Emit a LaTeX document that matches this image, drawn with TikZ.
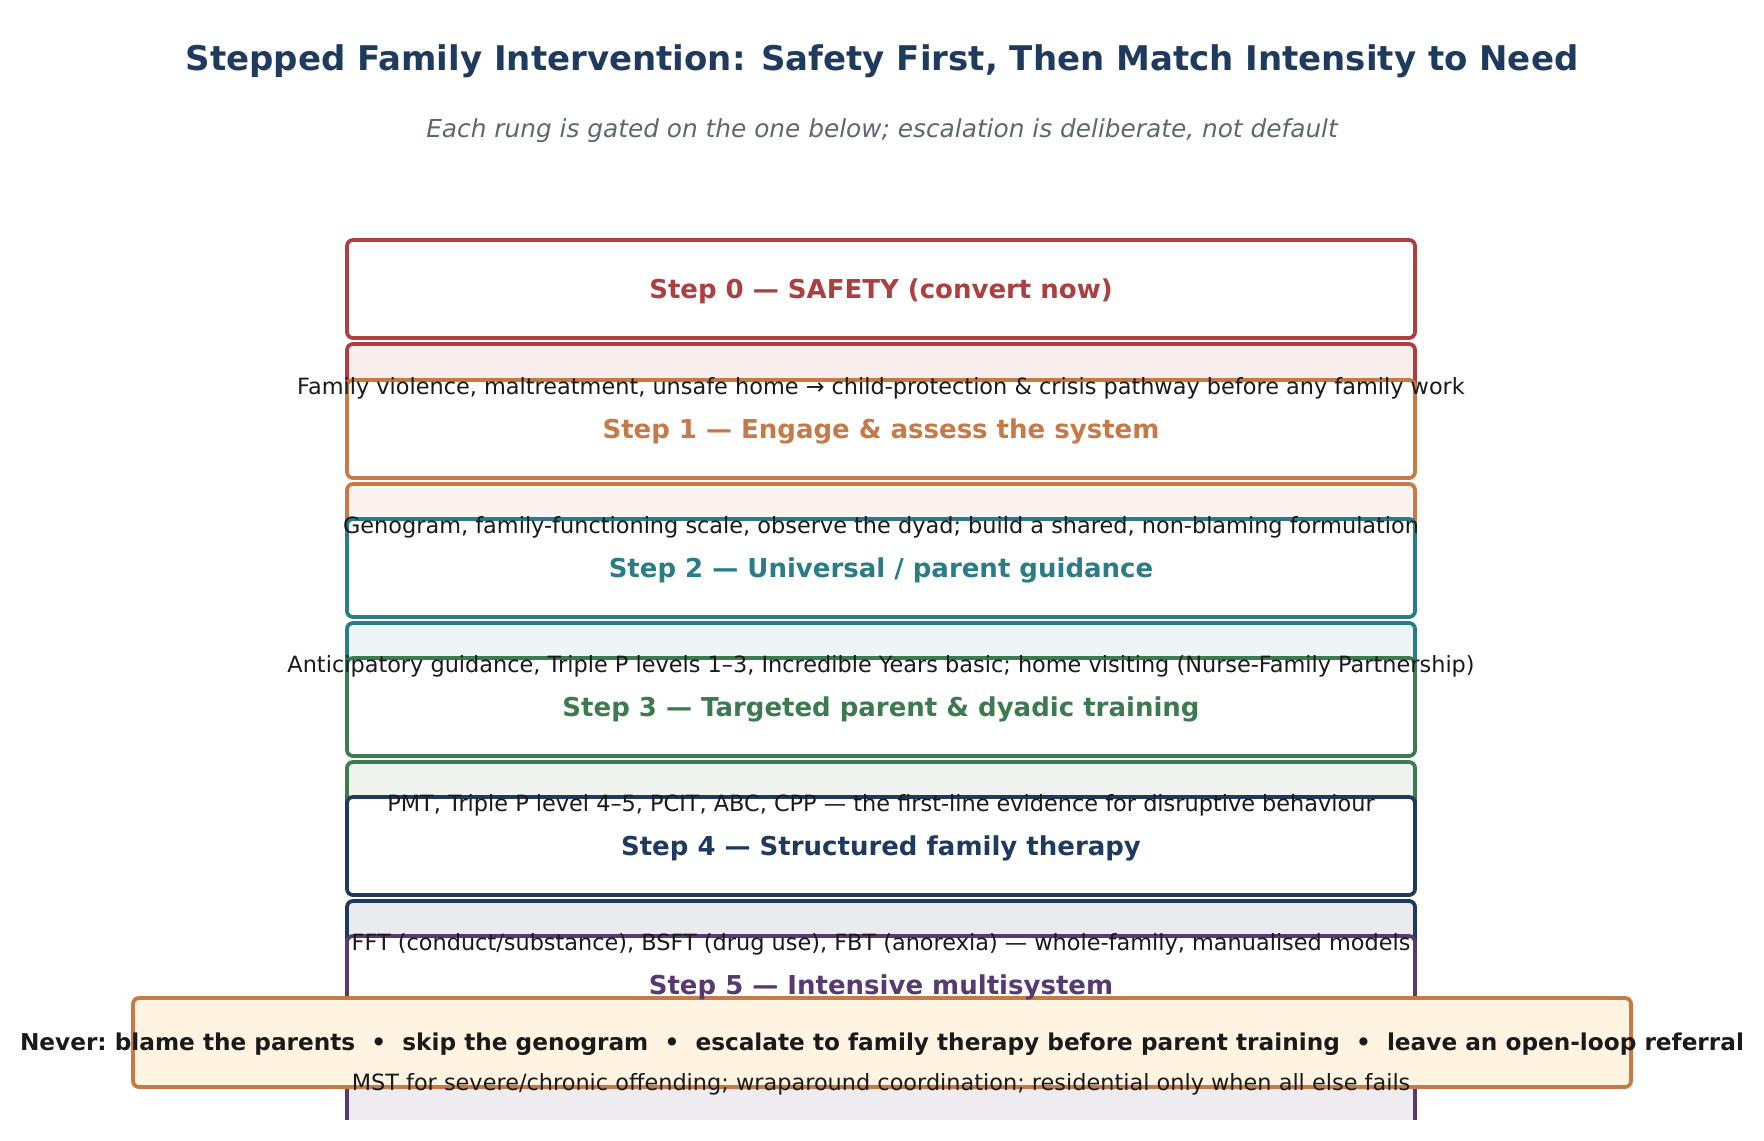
\documentclass[tikz,border=0pt]{standalone}
\usepackage{fontspec}
\setmainfont{DejaVu Sans}
\usepackage{xcolor}
\definecolor{navy}{HTML}{1F3A5F}
\definecolor{r0}{HTML}{AC4040}
\definecolor{r1}{HTML}{C67A48}
\definecolor{r2}{HTML}{2A7C86}
\definecolor{r3}{HTML}{3D7A4F}
\definecolor{r4}{HTML}{1F3A5F}
\definecolor{r5}{HTML}{563A70}
\definecolor{ink}{HTML}{1A1A1A}
\definecolor{greytext}{HTML}{5F6670}
\definecolor{cream}{HTML}{FFF4E2}

\begin{document}
\begin{tikzpicture}[x=0.5pt,y=-0.5pt,
	rung/.style={line width=1.9pt,rounded corners=3pt},
	steplabel/.style={font=\fontsize{13}{16}\selectfont\bfseries},
	detail/.style={font=\fontsize{11.2}{13}\selectfont,text=ink}]
	\useasboundingbox (0,0) rectangle (1764,1140);

	\node [font=\fontsize{17}{20}\selectfont\bfseries,text=navy] (title) at (882,61) {Stepped Family Intervention: Safety First, Then Match Intensity to Need};
	\node [font=\fontsize{12.4}{15}\selectfont\itshape,text=greytext] (subtitle) at (882,131) {Each rung is gated on the one below; escalation is deliberate, not default};

	% rungs, bottom of each one is covered by the next
	\draw [rung,draw=r0,fill=white] (347,240) rectangle (1415,338);
	\draw [rung,draw=r0,fill=r0!9] (347,344) rectangle (1415,441);
	\draw [rung,draw=r1,fill=white] (347,380) rectangle (1415,478);
	\draw [rung,draw=r1,fill=r1!9] (347,484) rectangle (1415,581);
	\draw [rung,draw=r2,fill=white] (347,519) rectangle (1415,617);
	\draw [rung,draw=r2,fill=r2!8] (347,623) rectangle (1415,720);
	\draw [rung,draw=r3,fill=white] (347,658) rectangle (1415,756);
	\draw [rung,draw=r3,fill=r3!9] (347,762) rectangle (1415,859);
	\draw [rung,draw=r4,fill=white] (347,797) rectangle (1415,895);
	\draw [rung,draw=r4,fill=r4!10] (347,901) rectangle (1415,998);
	\draw [rung,draw=r5,fill=white] (347,936) rectangle (1415,1034);
	\begin{scope}
	\clip (0,0) rectangle (1764,1119);
	\draw [rung,draw=r5,fill=r5!10] (347,1040) rectangle (1415,1137);
	\end{scope}

	% red-line banner
	\draw [rung,draw=r1,fill=cream] (133,998) rectangle (1631,1087);

	\node [steplabel,text=r0] (s0) at (881,291) {Step 0 — SAFETY (convert now)};
	\node [detail] (d0) at (881,388) {Family violence, maltreatment, unsafe home → child-protection \& crisis pathway before any family work};
	\node [steplabel,text=r1] (s1) at (881,431) {Step 1 — Engage \& assess the system};
	\node [detail] (d1) at (881,527) {Genogram, family-functioning scale, observe the dyad; build a shared, non-blaming formulation};
	\node [steplabel,text=r2] (s2) at (881,570) {Step 2 — Universal / parent guidance};
	\node [detail] (d2) at (881,666) {Anticipatory guidance, Triple P levels 1–3, Incredible Years basic; home visiting (Nurse-Family Partnership)};
	\node [steplabel,text=r3] (s3) at (881,709) {Step 3 — Targeted parent \& dyadic training};
	\node [detail] (d3) at (881,805) {PMT, Triple P level 4–5, PCIT, ABC, CPP — the first-line evidence for disruptive behaviour};
	\node [steplabel,text=r4] (s4) at (881,848) {Step 4 — Structured family therapy};
	\node [detail] (d4) at (881,944) {FFT (conduct/substance), BSFT (drug use), FBT (anorexia) — whole-family, manualised models};
	\node [steplabel,text=r5] (s5) at (881,987) {Step 5 — Intensive multisystem};
	\node [detail] (d5) at (881,1084) {MST for severe/chronic offending; wraparound coordination; residential only when all else fails};

	\node [font=\fontsize{11.6}{14}\selectfont\bfseries\frenchspacing,text=ink] (never) at (882,1044) {Never: blame the parents~~•~~skip the genogram~~•~~escalate to family therapy before parent training~~•~~leave an open-loop referral};
\end{tikzpicture}
\end{document}
